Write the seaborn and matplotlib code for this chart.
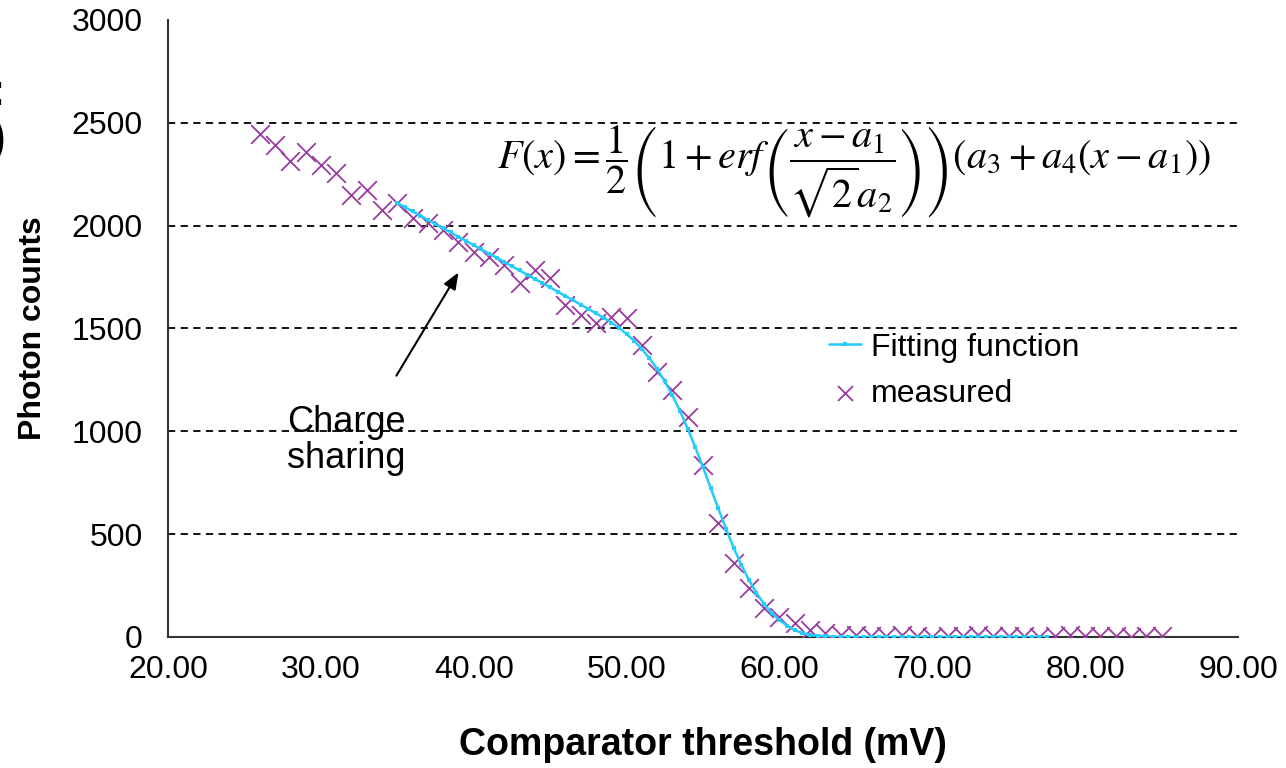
import numpy as np
import seaborn as sns
import matplotlib.pyplot as plt
from matplotlib.ticker import FormatStrFormatter

# measured photon counts, one point per mV of comparator threshold
meas_mv = list(range(26, 86))
meas_counts = [2446, 2392, 2316, 2357, 2295, 2255, 2149, 2173, 2076, 2110,
               2037, 2013, 1979, 1922, 1873, 1849, 1809, 1720, 1784, 1744,
               1614, 1566, 1525, 1557, 1550, 1420, 1290, 1201, 1071, 836,
               554, 358, 237, 140, 99, 67, 34, 18, 10, 8,
               5, 3, 10, 6, 2, 7, 4, 9, 5, 3,
               6, 2, 5, 8, 4, 3, 6, 2, 5, 3]

# fitting function sampled every 0.5 mV
fit_mv = np.arange(35, 78, 0.5)
fit_counts = [2110, 2090, 2069, 2049, 2028, 2008, 1987, 1967, 1946, 1926,
              1905, 1885, 1864, 1844, 1823, 1803, 1782, 1762, 1741, 1720,
              1700, 1679, 1658, 1637, 1616, 1595, 1574, 1552, 1529, 1503,
              1473, 1440, 1400, 1355, 1303, 1243, 1175, 1098, 1013, 922,
              825, 725, 625, 527, 435, 352, 278, 214, 160, 117,
              82, 55, 33, 19, 10, 6, 3, 2, 1,
              0, 0, 0, 0, 0, 0, 0, 0, 0, 0, 0, 0, 0, 0,
              0, 0, 0, 0, 0, 0, 0, 0, 0, 0, 0, 0, 0]

x_ticks = [20, 30, 40, 50, 60, 70, 80, 90]
y_ticks = [0, 500, 1000, 1500, 2000, 2500, 3000]

PURPLE = '#9A3B9E'
CYAN = '#22CCFF'

sns.set_style('white', {'text.color': 'black', 'axes.labelcolor': 'black',
                        'xtick.color': 'black', 'ytick.color': 'black'})
plt.rcParams['font.family'] = ['Liberation Sans', 'DejaVu Sans']
plt.rcParams['mathtext.fontset'] = 'stix'

fig = plt.figure(figsize=(12.86, 7.68), dpi=100)
ax = fig.add_axes([0.1306, 0.1706, 0.8321, 0.8034])

sns.scatterplot(x=meas_mv, y=meas_counts, marker='x', s=180, color=PURPLE,
                linewidth=1.3, ax=ax, label='measured', zorder=3)
sns.lineplot(x=fit_mv, y=fit_counts, color=CYAN, lw=1.8, marker='s',
             markersize=3.5, markeredgewidth=0, ax=ax, label='Fitting function',
             zorder=4)

ax.set_xlim(20, 90)
ax.set_ylim(0, 3000)
ax.set_xticks(x_ticks)
ax.set_yticks(y_ticks)
ax.xaxis.set_major_formatter(FormatStrFormatter('%.2f'))
ax.tick_params(axis='both', labelsize=23, length=8, width=1.5,
               color='#333333', direction='out')
ax.tick_params(axis='y', pad=10)
ax.tick_params(axis='x', pad=5)

ax.grid(axis='y', color='black', linestyle=(0, (4, 3)), lw=1.3)
ax.get_ygridlines()[-1].set_visible(False)
ax.set_axisbelow(True)
sns.despine(ax=ax)
for s in ['left', 'bottom']:
    ax.spines[s].set_color('#333333')
    ax.spines[s].set_linewidth(1.5)

ax.set_xlabel('Comparator threshold (mV)', fontsize=27, fontweight='bold',
              labelpad=30)
ax.set_ylabel('Photon counts', fontsize=23, fontweight='bold', labelpad=17)

# legend: fitting function first
h, l = ax.get_legend_handles_labels()
ax.legend([h[1], h[0]], [l[1], l[0]], loc='upper left',
          bbox_to_anchor=(0.591, 0.54), frameon=False, fontsize=23,
          handlelength=1.0, handletextpad=0.3, labelspacing=0.5,
          markerscale=0.8)

ax.text(41.5, 2262,
        r'$F(x)=\dfrac{1}{2}\left(1+erf\left(\dfrac{x-a_1}{\sqrt{2}a_2}\right)\right)'
        r'\left(a_3+a_4\left(x-a_1\right)\right)$',
        fontsize=29, ha='left', va='center')

ax.annotate('', xy=(39.1, 1784), xytext=(34.85, 1259),
            arrowprops=dict(arrowstyle='-|>,head_width=0.4,head_length=1.0',
                            color='black', lw=1.5))
ax.text(27.8, 955, 'Charge\nsharing', fontsize=26, ha='left', va='center',
        linespacing=1.05)

# pieces of text cut off at the left edge of the slide
fig.text(5 / 1286, 1 - 93 / 768, ':', fontsize=34, fontweight='bold',
         ha='right', va='center')
fig.text(6 / 1286, 1 - 140 / 768, ')', fontsize=34, fontweight='bold',
         ha='right', va='center')

fig.savefig('out.png', dpi=100)
